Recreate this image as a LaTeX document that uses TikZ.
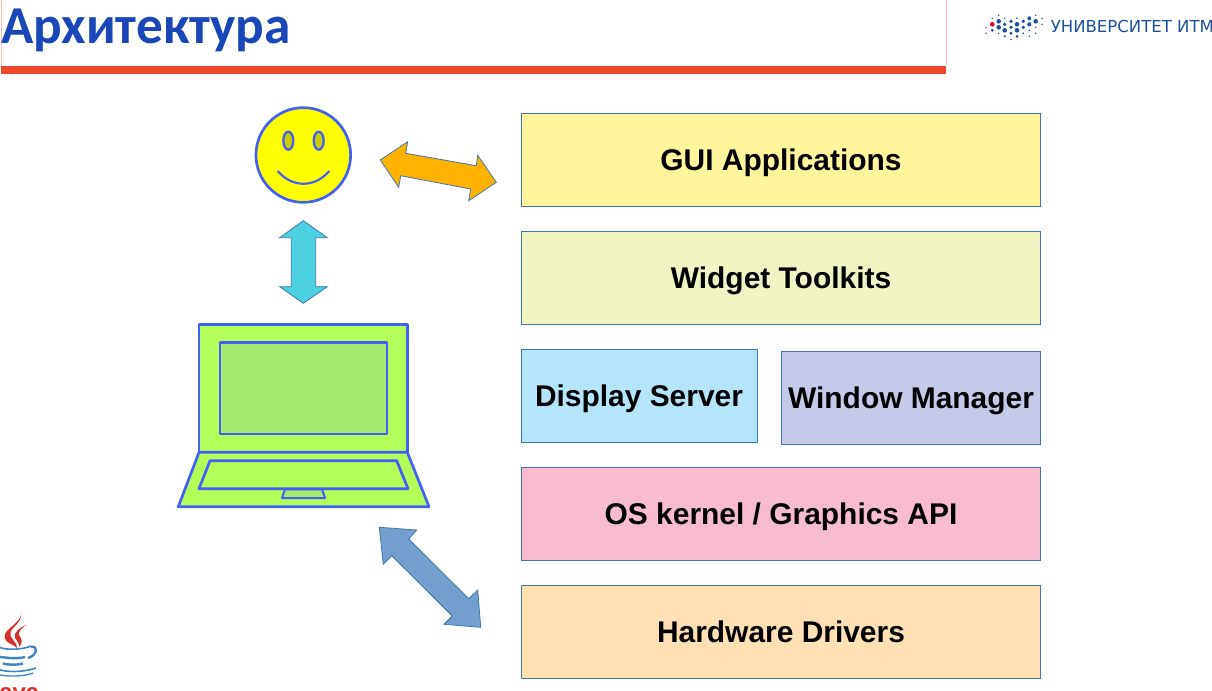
\documentclass[tikz,border=0pt]{standalone}
\usepackage{fontspec}
\setmainfont{Liberation Sans}
\newfontfamily\titlefont{Carlito}
\newfontfamily\itmofont{DejaVu Sans}
\definecolor{edgeblue}{HTML}{3F78B0}
\definecolor{lineblue}{HTML}{4060F8}
\definecolor{titleblue}{HTML}{1A47B8}
\definecolor{itmoblue}{HTML}{1F4FA0}
\definecolor{barred}{HTML}{F0472A}
\definecolor{javared}{HTML}{D8302C}
\definecolor{javablue}{HTML}{3C86C6}
\definecolor{guifill}{HTML}{FFF59D}
\definecolor{widgetfill}{HTML}{F0F4C3}
\definecolor{displayfill}{HTML}{B3E5FC}
\definecolor{wmfill}{HTML}{C5CAE9}
\definecolor{kernelfill}{HTML}{F8BBD0}
\definecolor{driversfill}{HTML}{FFE0B2}
\definecolor{lapfill}{HTML}{B2FF59}
\definecolor{screenfill}{HTML}{A5EB70}
\definecolor{facefill}{HTML}{FFFF00}
\definecolor{eyefill}{HTML}{CCCC00}
\definecolor{cyanfill}{HTML}{4DD0E1}
\definecolor{orangefill}{HTML}{FFB300}
\definecolor{bluefill}{HTML}{729FCF}
\begin{document}
\begin{tikzpicture}[x=0.75pt,y=-0.75pt,node distance=88.5pt,
  layer/.style = {draw=edgeblue, line width=0.6pt, minimum height=69.8pt, minimum width=389.6pt, inner sep=0pt, text height=16pt, text depth=0pt, font=\bfseries\fontsize{22.45}{26}\selectfont},
  block/.style = {draw=edgeblue, line width=0.6pt, line join=miter},
  outline/.style = {draw=lineblue, line width=2pt, line join=round}]
  \useasboundingbox (0,0) rectangle (1212,691);
  \fill[white] (0,0) rectangle (1212,691);
  \draw[barred!35, line width=0.5pt] (1.5,0) -- (1.5,66) (946,0) -- (946,66);
  \fill[barred] (1,66) rectangle (946,74);
  \node[anchor=base west, inner sep=0pt, text=titleblue, font=\titlefont\bfseries\fontsize{40}{44}\selectfont] (title) at (1,44) {Архитектура};
  \foreach \px/\py/\rad in {986/27.3/.8, 986/33.3/.8, 992.3/18.3/.8, 992.3/30.3/1.6, 998.7/15.3/.8, 998.7/21.3/2.3, 998.7/27.3/2.3, 998.7/33.3/.8, 1004.7/18.3/.9, 1004.7/24.3/1.8, 1004.7/30.3/2.3, 1004.7/36.3/1.1, 1011/21.3/1.8, 1011/27.3/1.8, 1011/33.3/1.6, 1011/39.3/.8, 1017/18.3/.9, 1017/24.3/2.3, 1017/30.3/2.3, 1017/36.3/1.5, 1023.3/21.3/1.8, 1023.3/27.3/1.8, 1023.3/33.3/.9, 1029.3/18.3/2, 1029.3/24.3/2.1, 1029.3/30.3/.9, 1029.3/36.3/.8, 1035.7/15.3/.8, 1035.7/21.3/2.3, 1035.7/27.3/.9, 1035.7/33.3/.8, 1042/18.3/.8, 1042/24.3/.8}
    \fill[itmoblue] (\px,\py) circle[radius=\rad];
  \fill[red!85!blue] (992.3,24.3) circle[radius=2.3];
  \node[anchor=base west, inner sep=0pt, text=itmoblue, font=\itmofont\fontsize{12.4}{14}\selectfont] (itmo) at (1050.5,33) {УНИВЕРСИТЕТ ИТМ};
  \node[layer, fill=guifill] (gui) at (781,159.5) {GUI Applications};
  \node[layer, fill=widgetfill] (widget) [below of=gui] {Widget Toolkits};
  \node[layer, fill=displayfill, minimum width=177pt] (display) at (639,396) {Display Server};
  \node[layer, fill=wmfill, minimum width=194.6pt] (wm) at (911,398.3) {Window Manager};
  \node[layer, fill=kernelfill] (kernel) [below of=widget, node distance=177pt] {OS kernel / Graphics API};
  \node[layer, fill=driversfill] (drivers) [below of=kernel] {Hardware Drivers};
  \node[outline, circle, fill=facefill, minimum size=71pt, inner sep=0pt] (face) at (303.3,155) {};
  \draw[outline, line width=1.7pt, fill=eyefill] (288.3,140.7) ellipse[x radius=5, y radius=9];
  \draw[outline, line width=1.7pt, fill=eyefill] (318.7,140.7) ellipse[x radius=5, y radius=9];
  \draw[outline, line width=1.6pt] (277.7,171) .. controls (292,188) and (315,188) .. (329.3,171);
  \filldraw[block, fill=cyanfill] (303.3,220.7) -- (327.3,237.7) -- (315.7,237.7) -- (315.7,286.7) -- (327.3,286.7) -- (303.3,303.3) -- (279.7,286.7) -- (291.3,286.7) -- (291.3,237.7) -- (279.7,237.7) -- cycle;
  \filldraw[block, fill=orangefill] (380.3,160) -- (407.7,141.7) -- (405.7,153.3) -- (476.3,165.7) -- (477.7,155.3) -- (496.3,182.3) -- (468.7,200.7) -- (470.7,189) -- (400.7,175.7) -- (398.7,187.3) -- cycle;
  \filldraw[block, fill=bluefill] (379.3,527.3) -- (416.7,530) -- (408.7,539) -- (468.7,598.7) -- (477.7,590) -- (480.7,627.3) -- (444,624.3) -- (452.3,616) -- (391.7,555.7) -- (383.3,564.3) -- cycle;
  \filldraw[outline, fill=lapfill] (199,324.7) rectangle (407.3,452.3);
  \filldraw[outline, fill=screenfill] (220,342.7) rectangle (387,434);
  \filldraw[outline, fill=lapfill] (199,452.3) -- (407.3,452.3) -- (429,506.7) -- (178.3,506.7) -- cycle;
  \draw[outline] (210,460.7) -- (396.7,460.7) -- (408,488.7) -- (199,488.7) -- cycle;
  \filldraw[outline, line width=1.5pt, fill=screenfill] (285,489.3) -- (322,489.3) -- (325,498) -- (282,498) -- cycle;
  \fill[javared] (20.7,611.7) .. controls (24,622) and (4,628) .. (4.5,637) .. controls (5,643) and (13,644) .. (17,648) .. controls (18,642) and (8,638) .. (10.5,632) .. controls (13,626) and (23,622) .. cycle;
  \fill[javared] (26.5,624.5) .. controls (20,628) and (13,632) .. (15,638) .. controls (16,641) and (20,642) .. (19,647) .. controls (23,643) and (22,639) .. (19.5,636) .. controls (17,632) and (22,628) .. cycle;
  \draw[javablue, line width=1.2pt] (0,647.5) .. controls (6,650) and (22,650) .. (31,646);
  \draw[javablue, line width=1.8pt] (31,647) .. controls (38,645) and (38,655) .. (28,658);
  \draw[javablue, line width=1.8pt] (0,657) -- (10,658) .. controls (14,658.5) and (22,658) .. (25,657);
  \draw[javablue, line width=1.8pt] (3,663.5) .. controls (8,665) and (18,665) .. (23,663.5);
  \draw[javablue, line width=1.2pt] (0,670) .. controls (12,673) and (28,671) .. (36,668);
  \draw[javablue, line width=1pt] (0,675) .. controls (12,677) and (26,676) .. (33,673);
  \node[anchor=base west, inner sep=0pt, text=javared, font=\bfseries\fontsize{18}{20}\selectfont] (java) at (-1,700.5) {ava};
\end{tikzpicture}
\end{document}
